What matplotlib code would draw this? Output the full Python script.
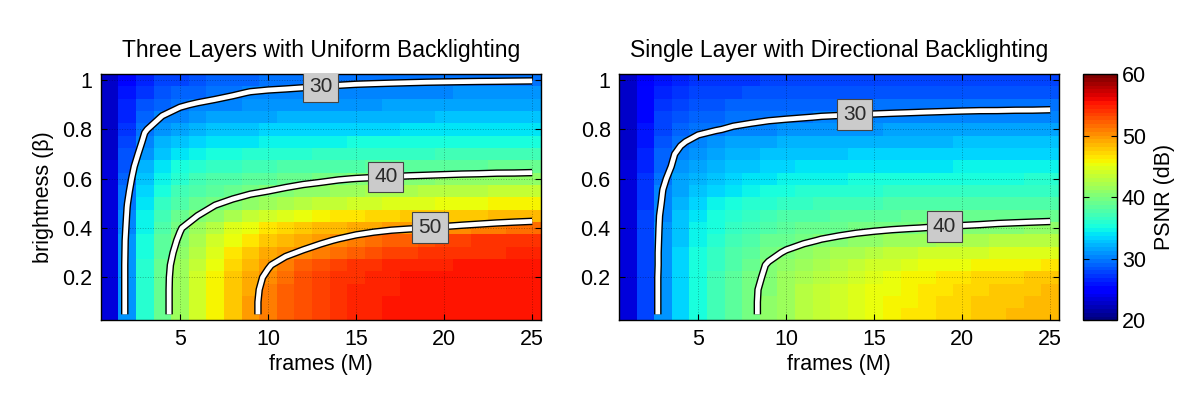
import numpy as np
import matplotlib
matplotlib.use("Agg")
import matplotlib.pyplot as plt

plt.rcParams['font.family'] = ['Liberation Sans', 'DejaVu Sans']

# eixos: numero de frames (M) e brilho (beta)
frames = list(range(1, 26))
brightness = [0.05, 0.10, 0.15, 0.20, 0.25, 0.30, 0.35, 0.40, 0.45, 0.50,
              0.55, 0.60, 0.65, 0.70, 0.75, 0.80, 0.85, 0.90, 0.95, 1.00]

# PSNR (dB), uma linha por valor de brilho (de baixo para cima)
psnr_three = [
    [23.5, 31.0, 35.8, 39.0, 41.6, 44.0, 46.0, 47.8, 49.4, 50.8, 52.0, 52.9, 53.6, 54.1, 54.5, 54.8, 55.0, 55.1, 55.2, 55.2, 55.3, 55.3, 55.3, 55.4, 55.4],
    [23.5, 31.0, 35.8, 39.0, 41.6, 44.0, 46.0, 47.8, 49.4, 50.8, 52.0, 52.9, 53.6, 54.1, 54.5, 54.8, 55.0, 55.1, 55.2, 55.2, 55.3, 55.3, 55.3, 55.4, 55.4],
    [23.5, 31.0, 35.8, 39.0, 41.6, 44.0, 46.0, 47.7, 49.3, 50.7, 51.9, 52.8, 53.5, 54.0, 54.4, 54.7, 54.9, 55.0, 55.1, 55.2, 55.2, 55.3, 55.3, 55.3, 55.4],
    [23.5, 31.0, 35.8, 39.0, 41.5, 43.8, 45.8, 47.6, 49.1, 50.4, 51.7, 52.6, 53.3, 53.9, 54.3, 54.6, 54.8, 55.0, 55.1, 55.2, 55.2, 55.3, 55.3, 55.3, 55.4],
    [23.5, 31.0, 35.7, 38.9, 41.3, 43.5, 45.4, 47.1, 48.6, 49.8, 50.9, 51.9, 52.7, 53.3, 53.8, 54.2, 54.5, 54.7, 54.8, 54.9, 55.0, 55.0, 55.1, 55.1, 55.1],
    [23.5, 30.9, 35.5, 38.6, 40.9, 43.0, 44.8, 46.4, 47.7, 48.8, 49.6, 50.3, 51.0, 51.7, 52.4, 52.9, 53.3, 53.6, 53.8, 54.0, 54.1, 54.2, 54.3, 54.4, 54.5],
    [23.5, 30.8, 35.2, 38.2, 40.4, 42.3, 43.9, 45.3, 46.5, 47.5, 48.3, 49.0, 49.6, 50.2, 50.8, 51.4, 51.9, 52.4, 52.8, 53.2, 53.5, 53.8, 54.0, 54.2, 54.3],
    [23.5, 30.5, 34.9, 37.8, 39.8, 41.6, 43.1, 44.4, 45.5, 46.4, 47.1, 47.7, 48.2, 48.6, 49.0, 49.3, 49.6, 49.8, 50.0, 50.3, 50.6, 50.9, 51.2, 51.5, 51.8],
    [23.5, 30.2, 34.6, 37.2, 38.8, 40.0, 41.2, 42.3, 43.3, 44.1, 44.8, 45.4, 45.9, 46.3, 46.7, 47.0, 47.3, 47.5, 47.7, 47.9, 48.0, 48.1, 48.3, 48.4, 48.5],
    [23.5, 29.9, 34.0, 36.4, 37.9, 39.0, 39.8, 40.5, 41.2, 41.8, 42.3, 42.8, 43.2, 43.6, 43.9, 44.2, 44.5, 44.7, 44.9, 45.1, 45.3, 45.5, 45.7, 45.9, 46.0],
    [23.4, 29.5, 33.3, 35.6, 37.0, 37.9, 38.6, 39.1, 39.6, 40.0, 40.4, 40.8, 41.1, 41.4, 41.7, 42.0, 42.2, 42.4, 42.6, 42.8, 43.0, 43.1, 43.3, 43.4, 43.5],
    [23.3, 29.1, 32.6, 34.7, 36.0, 36.9, 37.5, 38.0, 38.4, 38.7, 39.0, 39.3, 39.55, 39.85, 40.05, 40.2, 40.35, 40.5, 40.6, 40.7, 40.8, 40.9, 41.0, 41.05, 41.1],
    [23.2, 28.7, 31.9, 33.8, 35.0, 35.8, 36.3, 36.7, 37.0, 37.3, 37.5, 37.7, 37.9, 38.0, 38.1, 38.2, 38.3, 38.4, 38.5, 38.6, 38.7, 38.7, 38.8, 38.8, 38.9],
    [23.1, 28.2, 31.1, 32.8, 33.9, 34.6, 35.1, 35.4, 35.7, 35.9, 36.1, 36.2, 36.3, 36.4, 36.5, 36.6, 36.7, 36.8, 36.8, 36.9, 36.9, 37.0, 37.0, 37.1, 37.2],
    [23.0, 27.8, 30.4, 31.9, 32.8, 33.4, 33.8, 34.1, 34.3, 34.5, 34.6, 34.7, 34.8, 34.9, 35.0, 35.1, 35.1, 35.2, 35.2, 35.3, 35.3, 35.4, 35.4, 35.5, 35.6],
    [22.9, 27.3, 29.85, 30.9, 31.7, 32.2, 32.6, 32.9, 33.1, 33.2, 33.3, 33.4, 33.5, 33.6, 33.6, 33.7, 33.7, 33.8, 33.8, 33.9, 33.9, 34.0, 34.0, 34.0, 34.1],
    [22.8, 26.8, 29.0, 30.1, 30.6, 31.0, 31.3, 31.5, 31.7, 31.8, 31.9, 32.0, 32.1, 32.2, 32.2, 32.3, 32.3, 32.4, 32.4, 32.5, 32.5, 32.6, 32.6, 32.7, 32.8],
    [22.7, 26.3, 28.2, 29.2, 29.85, 30.15, 30.35, 30.5, 30.7, 30.8, 30.9, 31.0, 31.1, 31.1, 31.2, 31.2, 31.3, 31.3, 31.4, 31.4, 31.5, 31.5, 31.6, 31.6, 31.7],
    [22.6, 25.8, 27.4, 28.2, 28.8, 29.25, 29.55, 29.82, 30.05, 30.15, 30.2, 30.25, 30.3, 30.35, 30.4, 30.45, 30.5, 30.55, 30.6, 30.6, 30.65, 30.7, 30.7, 30.75, 30.8],
    [22.5, 25.3, 26.8, 27.6, 28.1, 28.5, 28.8, 29.05, 29.25, 29.4, 29.5, 29.6, 29.7, 29.75, 29.8, 29.82, 29.84, 29.86, 29.88, 29.9, 29.91, 29.92, 29.93, 29.94, 29.95],
]

psnr_single = [
    [23.5, 27.6, 31.0, 33.6, 35.4, 37.0, 38.4, 39.6, 40.7, 41.7, 42.6, 43.4, 44.1, 44.7, 45.3, 45.8, 46.3, 46.7, 47.1, 47.4, 47.7, 48.0, 48.2, 48.4, 48.6],
    [23.5, 27.6, 31.0, 33.6, 35.4, 37.0, 38.4, 39.6, 40.7, 41.7, 42.6, 43.4, 44.1, 44.7, 45.2, 45.7, 46.2, 46.6, 47.0, 47.3, 47.6, 47.9, 48.1, 48.3, 48.5],
    [23.5, 27.6, 31.0, 33.6, 35.4, 37.0, 38.4, 39.6, 40.6, 41.6, 42.5, 43.3, 44.0, 44.6, 45.1, 45.6, 46.0, 46.4, 46.8, 47.1, 47.4, 47.6, 47.8, 48.0, 48.2],
    [23.5, 27.6, 31.0, 33.5, 35.3, 36.9, 38.2, 39.4, 40.4, 41.3, 42.2, 43.0, 43.7, 44.3, 44.8, 45.3, 45.7, 46.1, 46.4, 46.7, 46.9, 47.1, 47.3, 47.5, 47.6],
    [23.5, 27.6, 30.9, 33.4, 35.2, 36.7, 38.0, 39.1, 40.2, 40.9, 41.6, 42.3, 42.9, 43.4, 43.9, 44.3, 44.7, 45.0, 45.3, 45.6, 45.8, 46.0, 46.1, 46.2, 46.3],
    [23.5, 27.6, 30.9, 33.3, 35.0, 36.5, 37.7, 38.7, 39.5, 40.2, 40.8, 41.4, 41.9, 42.4, 42.8, 43.2, 43.5, 43.8, 44.0, 44.2, 44.3, 44.4, 44.5, 44.6, 44.7],
    [23.5, 27.6, 30.8, 33.1, 34.7, 36.1, 37.2, 38.1, 38.8, 39.3, 39.7, 40.1, 40.4, 40.7, 41.0, 41.3, 41.6, 41.8, 42.0, 42.2, 42.4, 42.5, 42.7, 42.8, 42.9],
    [23.5, 27.6, 30.7, 32.9, 34.4, 35.6, 36.6, 37.4, 38.0, 38.5, 38.8, 39.1, 39.3, 39.5, 39.65, 39.8, 39.93, 40.05, 40.15, 40.25, 40.35, 40.5, 40.6, 40.7, 40.8],
    [23.5, 27.5, 30.6, 32.6, 34.0, 35.1, 36.0, 36.7, 37.2, 37.6, 37.9, 38.1, 38.3, 38.5, 38.6, 38.7, 38.8, 38.9, 39.0, 39.05, 39.1, 39.15, 39.2, 39.25, 39.3],
    [23.5, 27.3, 30.3, 32.2, 33.5, 34.5, 35.2, 35.8, 36.2, 36.5, 36.8, 37.0, 37.2, 37.3, 37.4, 37.5, 37.6, 37.7, 37.75, 37.8, 37.85, 37.9, 37.95, 38.0, 38.0],
    [23.4, 27.1, 30.05, 31.7, 32.9, 33.7, 34.3, 34.8, 35.2, 35.5, 35.7, 35.9, 36.0, 36.1, 36.2, 36.3, 36.4, 36.45, 36.5, 36.55, 36.6, 36.65, 36.7, 36.75, 36.8],
    [23.3, 26.9, 29.7, 31.3, 32.3, 33.0, 33.5, 33.9, 34.2, 34.5, 34.7, 34.8, 34.95, 35.05, 35.15, 35.25, 35.3, 35.35, 35.4, 35.45, 35.5, 35.55, 35.6, 35.65, 35.7],
    [23.2, 26.7, 29.3, 30.8, 31.7, 32.3, 32.8, 33.1, 33.4, 33.6, 33.8, 33.9, 34.0, 34.1, 34.15, 34.2, 34.25, 34.3, 34.35, 34.4, 34.45, 34.5, 34.5, 34.55, 34.6],
    [23.1, 26.5, 29.2, 30.4, 31.0, 31.6, 32.0, 32.3, 32.5, 32.7, 32.85, 32.95, 33.05, 33.15, 33.2, 33.25, 33.3, 33.35, 33.4, 33.45, 33.5, 33.5, 33.55, 33.55, 33.6],
    [23.0, 26.2, 28.5, 29.8, 30.5, 31.0, 31.3, 31.55, 31.75, 31.9, 32.0, 32.1, 32.15, 32.2, 32.25, 32.3, 32.35, 32.4, 32.45, 32.5, 32.5, 32.55, 32.55, 32.6, 32.6],
    [22.9, 25.9, 28.0, 29.1, 29.6, 29.9, 30.2, 30.4, 30.6, 30.75, 30.85, 30.95, 31.05, 31.15, 31.2, 31.3, 31.35, 31.4, 31.45, 31.5, 31.55, 31.6, 31.6, 31.65, 31.7],
    [22.8, 25.6, 27.5, 28.4, 28.9, 29.2, 29.45, 29.6, 29.75, 29.85, 29.95, 30.05, 30.1, 30.15, 30.2, 30.25, 30.3, 30.35, 30.4, 30.45, 30.5, 30.5, 30.55, 30.55, 30.6],
    [22.7, 25.3, 27.0, 27.8, 28.3, 28.6, 28.8, 28.95, 29.05, 29.15, 29.22, 29.3, 29.35, 29.4, 29.42, 29.45, 29.47, 29.5, 29.52, 29.54, 29.55, 29.56, 29.57, 29.58, 29.6],
    [22.6, 25.0, 26.5, 27.2, 27.6, 27.9, 28.05, 28.2, 28.3, 28.35, 28.4, 28.45, 28.5, 28.52, 28.55, 28.57, 28.6, 28.62, 28.64, 28.65, 28.66, 28.67, 28.68, 28.69, 28.7],
    [22.5, 24.7, 26.0, 26.6, 27.0, 27.2, 27.35, 27.45, 27.55, 27.6, 27.65, 27.7, 27.72, 27.75, 27.77, 27.8, 27.82, 27.84, 27.85, 27.86, 27.87, 27.88, 27.89, 27.9, 27.9],
]

titles = ["Three Layers with Uniform Backlighting",
          "Single Layer with Directional Backlighting"]
levels_three = [30, 40, 50]
levels_single = [30, 40]
# onde ficam as caixinhas dos rotulos das curvas
labels_three = [(13.0, 0.976), (16.7, 0.60), (19.2, 0.40)]
labels_single = [(13.9, 0.856), (19.0, 0.397)]

fig = plt.figure(figsize=(12, 3.93), dpi=100)
ax1 = fig.add_axes([0.0839, 0.1845, 0.3669, 0.6272])
ax2 = fig.add_axes([0.5158, 0.1845, 0.3667, 0.6272])
cax = fig.add_axes([0.9025, 0.1845, 0.0283, 0.6272])

cmap = plt.get_cmap('jet', 64)
paineis = [
    (ax1, psnr_three, levels_three, labels_three, titles[0]),
    (ax2, psnr_single, levels_single, labels_single, titles[1]),
]

for ax, dados, niveis, pos_rotulos, titulo in paineis:
    Z = np.array(dados)
    mesh = ax.pcolormesh(frames, brightness, Z, cmap=cmap, vmin=20, vmax=60,
                         shading='nearest', zorder=1)

    # linha branca com contorno preto
    cs_k = ax.contour(frames, brightness, Z, levels=niveis, colors='k',
                      linewidths=5.4, zorder=3)
    cs = ax.contour(frames, brightness, Z, levels=niveis, colors='w',
                    linewidths=3.4, zorder=4)
    for c in (cs_k, cs):
        c.set_joinstyle('round')
        c.set_capstyle('butt')
    textos = ax.clabel(cs, niveis, manual=pos_rotulos, inline=False,
                       fontsize=15, fmt='%d', colors='#2a2a2a')
    for t in textos:
        t.set_rotation(0)
        t.set_bbox(dict(boxstyle='square,pad=0.28', fc='#cbcbcb',
                        ec='#444444', lw=0.8))
        t.set_zorder(6)

    ax.set_xlim(0.5, 25.5)
    ax.set_ylim(0.025, 1.025)
    ax.set_xticks([5, 10, 15, 20, 25])
    ax.set_yticks([0.2, 0.4, 0.6, 0.8, 1.0])
    ax.set_yticklabels(['0.2', '0.4', '0.6', '0.8', '1'])
    ax.tick_params(direction='in', top=True, right=True, length=4,
                   width=0.8, labelsize=15.5, pad=6)
    ax.grid(True, linestyle=':', color='k', linewidth=0.7, alpha=0.3)
    ax.set_xlabel("frames (M)", fontsize=15.5, labelpad=3)
    ax.set_title(titulo, fontsize=16.5, pad=12)
    for s in ax.spines.values():
        s.set_linewidth(1.0)

ax1.set_ylabel("brightness (β)", fontsize=15.5, labelpad=6)

cb = fig.colorbar(mesh, cax=cax)
cb.set_ticks([20, 30, 40, 50, 60])
cb.ax.tick_params(direction='in', left=True, right=True, length=4,
                  width=0.8, labelsize=15.5)
cb.set_label("PSNR (dB)", fontsize=15.5, labelpad=6)
cb.outline.set_linewidth(1.0)

plt.savefig("out.png", dpi=100)
plt.close()
